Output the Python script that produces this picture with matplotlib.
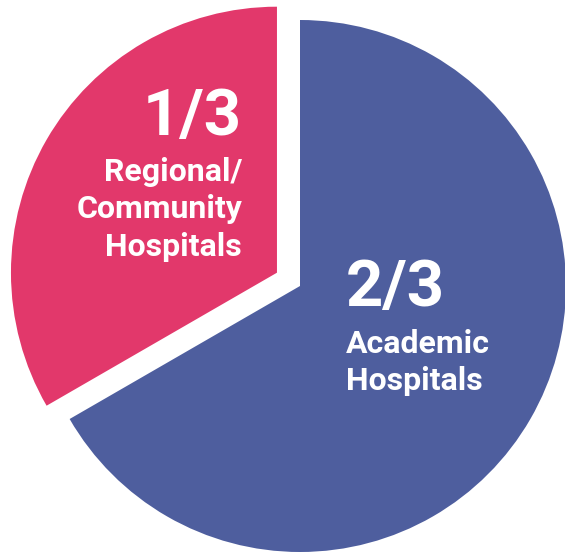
import matplotlib
matplotlib.use('Agg')
import matplotlib.pyplot as plt

# data
segments = ['Academic', 'Regional/Community']
shares = [2, 1]
fractions = ['2/3', '1/3']
captions = [['Academic', 'Hospitals'], ['Regional/', 'Community', 'Hospitals']]
colors = ['#4E5E9E', '#E2386B']
explode_frac = [0.0, 0.1]

W, H = 565, 555
radius = 266

fig = plt.figure(figsize=(W / 100, H / 100), dpi=100)
ax = fig.add_axes([0, 0, 1, 1])

# pie() takes explode in data units, so scale it by the radius
ax.pie(shares, colors=colors, explode=[e * radius for e in explode_frac],
       startangle=90, counterclock=False,
       center=(300, H - 286), radius=radius, frame=True,
       wedgeprops=dict(linewidth=0))
ax.set_xlim(0, W)
ax.set_ylim(0, H)
ax.set_aspect('equal')
ax.axis('off')

font = ['Roboto', 'DejaVu Sans']
line_h = 37.5

def put_label(x, y_frac, y_cap, frac, lines, ha):
    ax.text(x, H - y_frac, frac, color='white', fontsize=47, fontweight='bold',
            family=font, ha=ha, va='baseline')
    for i, ln in enumerate(lines):
        ax.text(x, H - (y_cap + i * line_h), ln, color='white', fontsize=23,
                fontweight='bold', family=font, ha=ha, va='baseline')

# Academic (right side, left aligned)
put_label(346, 306, 353, fractions[0], captions[0], 'left')
# Regional/Community (left slice, right aligned)
put_label(242, 135, 181, fractions[1], captions[1], 'right')

fig.savefig('out.png', dpi=100)
